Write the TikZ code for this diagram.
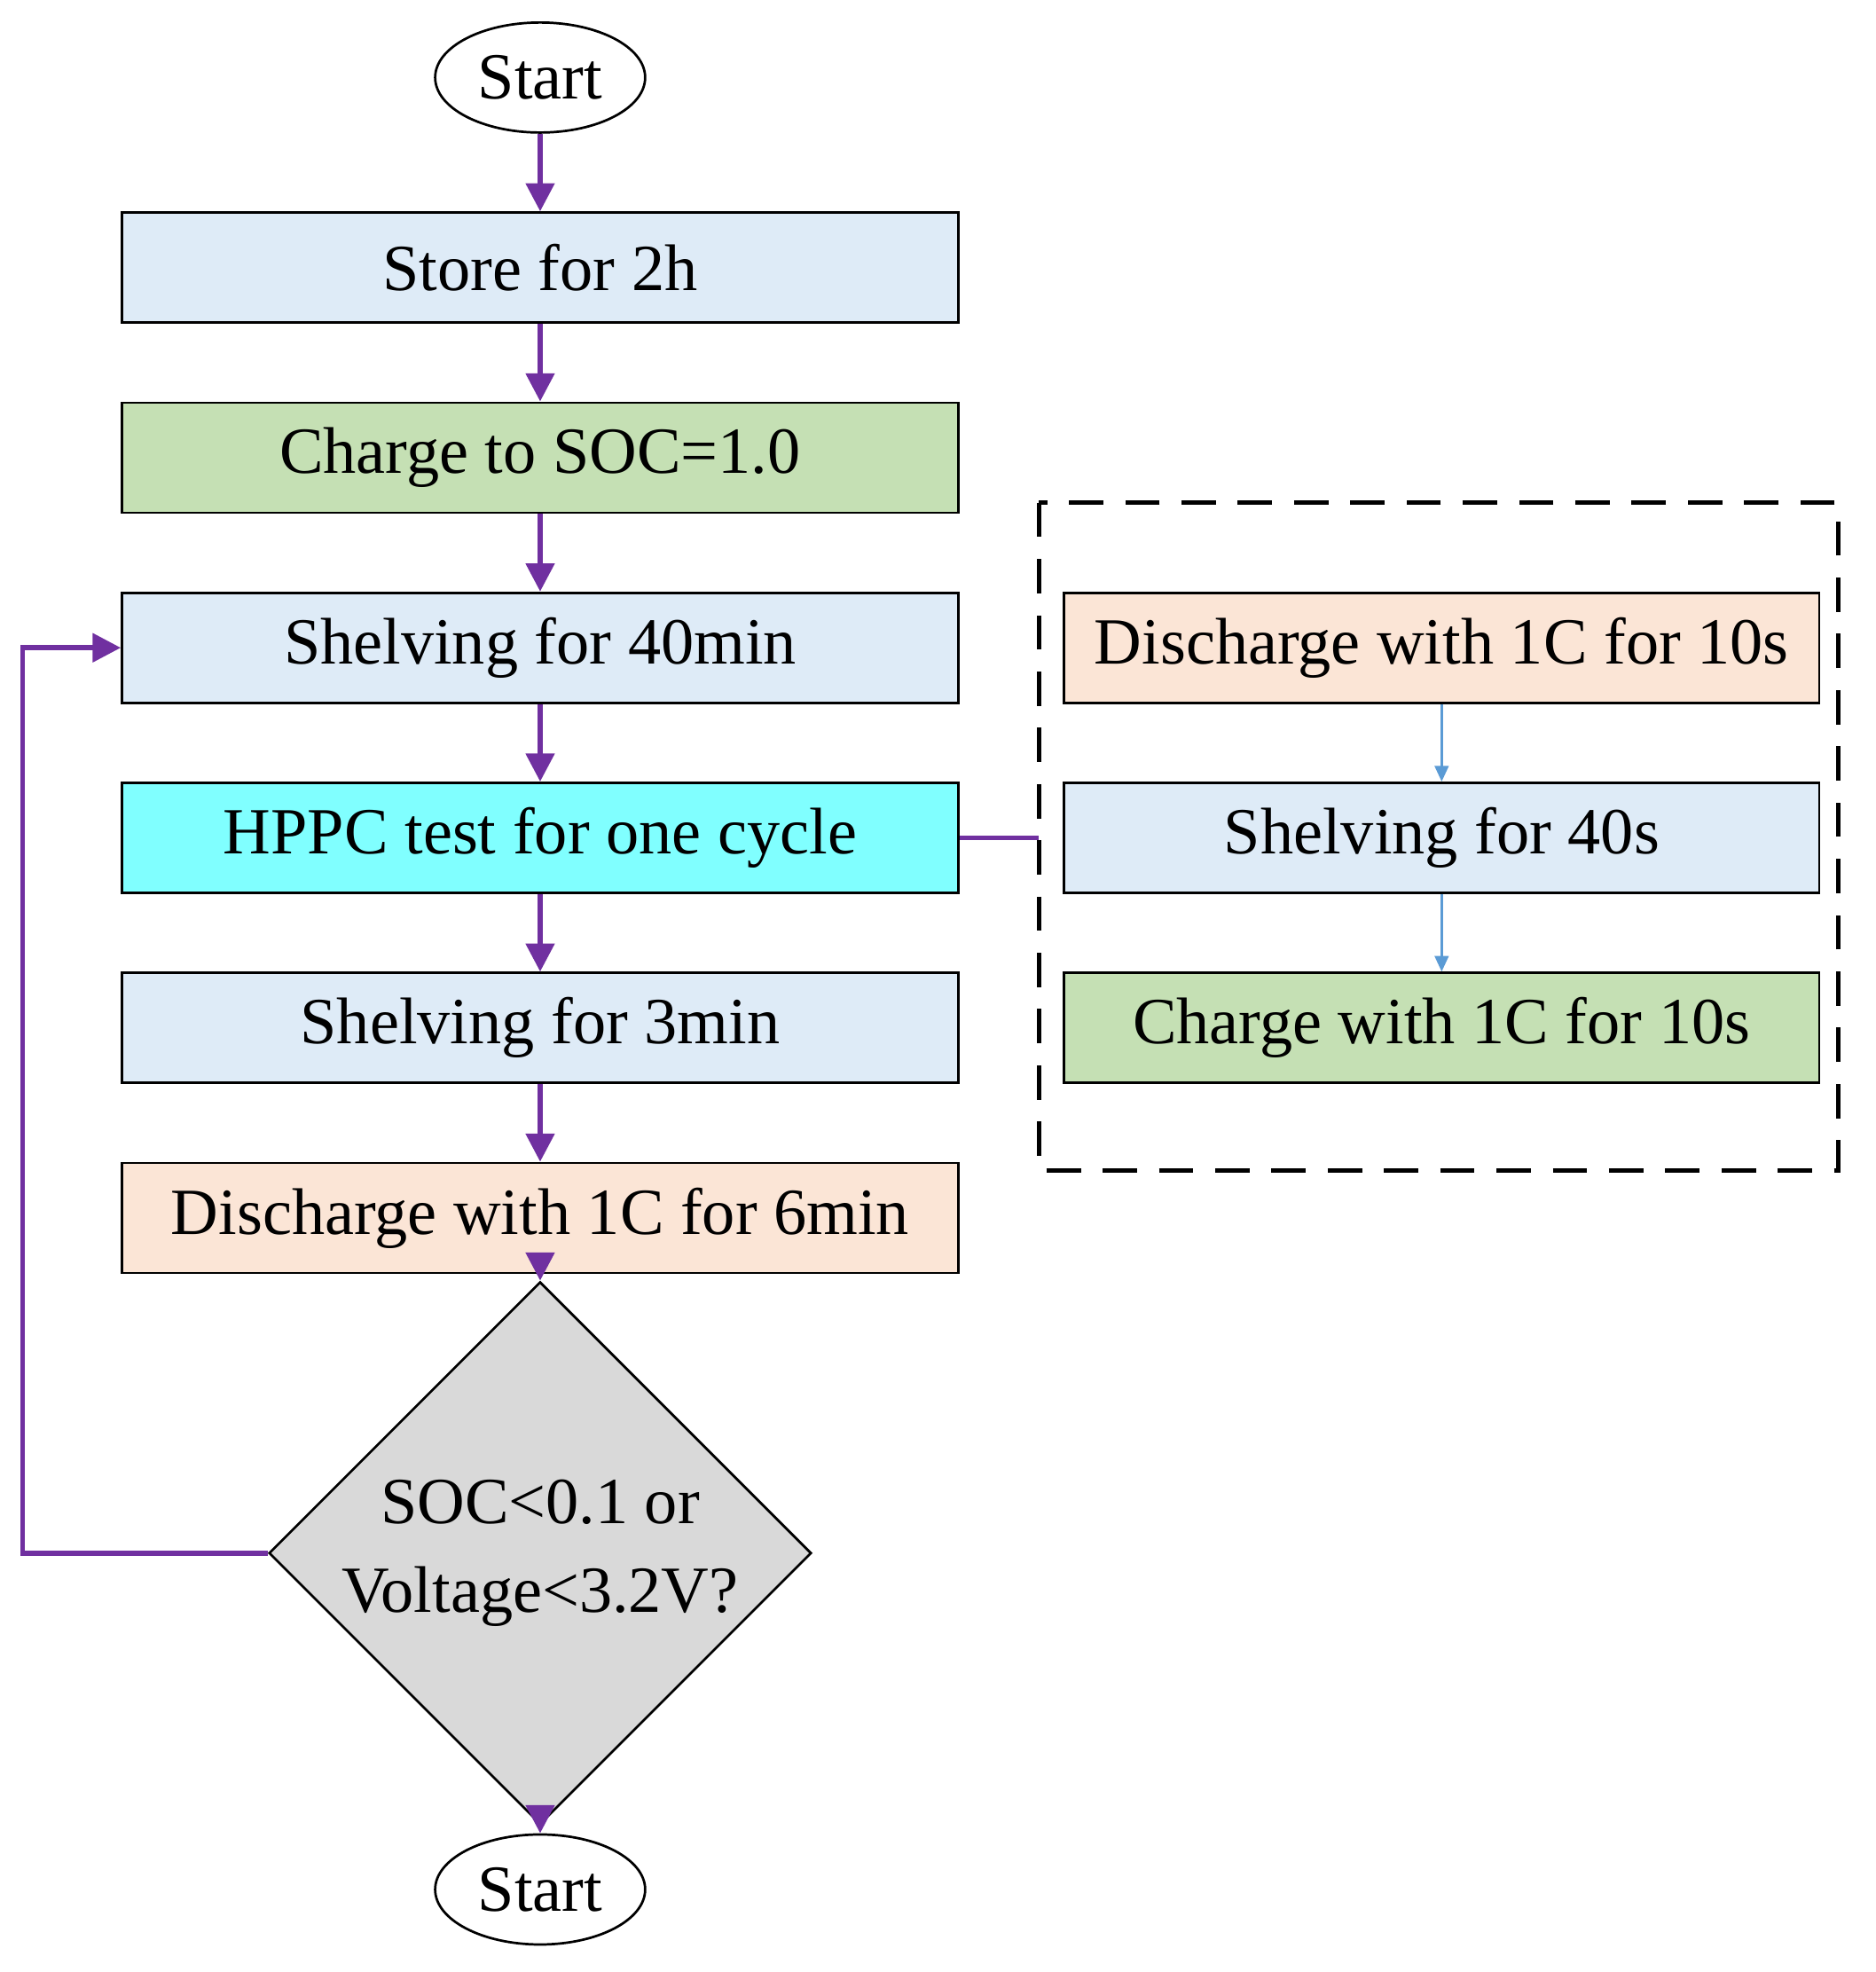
\documentclass[tikz,border=0pt]{standalone}
\usepackage{fontspec}
\setmainfont{Liberation Serif}
\usetikzlibrary{shapes.geometric,arrows.meta}
\definecolor{lb}{HTML}{DEEBF7}
\definecolor{gr}{HTML}{C5E0B4}
\definecolor{cy}{HTML}{80FFFF}
\definecolor{pe}{HTML}{FBE5D6}
\definecolor{gy}{HTML}{D9D9D9}
\definecolor{pu}{HTML}{7030A0}
\definecolor{bl}{HTML}{5B9BD5}
\begin{document}
\begin{tikzpicture}[x=0.02cm,y=-0.02cm,
 box/.style={draw,line width=1.1pt,minimum width=13.38cm,minimum height=1.76cm,inner sep=0pt,font=\fontsize{30}{36}\selectfont},
 rbox/.style={box,minimum width=12.08cm},
 term/.style={draw,line width=1.1pt,ellipse,minimum width=3.36cm,minimum height=1.76cm,inner sep=0pt,font=\fontsize{30}{36}\selectfont},
 arr/.style={draw=pu,line width=2.3pt,-{Triangle[length=0.45cm,width=0.45cm]}},
 barr/.style={draw=bl,line width=1.1pt,-{Triangle[length=0.25cm,width=0.22cm]}}]
\useasboundingbox (0,0) rectangle (1500,1577);
\node[term] (s) at (432,62) {Start};
\node[box,fill=lb] (b1) at (432,214) {Store for 2h};
\node[box,fill=gr] (b2) at (432,366) {Charge to SOC=1.0};
\node[box,fill=lb] (b3) at (432,518) {Shelving for 40min};
\node[box,fill=cy] (b4) at (432,670) {HPPC test for one cycle};
\node[box,fill=lb] (b5) at (432,822) {Shelving for 3min};
\node[box,fill=pe] (b6) at (432,974) {Discharge with 1C for 6min};
\node[draw,line width=1.1pt,diamond,fill=gy,minimum width=8.6cm,minimum height=6.4cm,inner sep=0pt,align=center,font=\fontsize{30}{40}\selectfont] (d) at (432,1242) {SOC<0.1 or\\Voltage<3.2V?};
\node[term] (e) at (432,1511) {Start};
\node[rbox,fill=pe] (r1) at (1153,518) {Discharge with 1C for 10s};
\node[rbox,fill=lb] (r2) at (1153,670) {Shelving for 40s};
\node[rbox,fill=gr] (r3) at (1153,822) {Charge with 1C for 10s};
\draw[line width=2pt,dash pattern=on 0.55cm off 0.35cm] (831,402) rectangle (1470,936);
\coordinate (dl) at (831,670);
\coordinate (c1) at (18,1242);
\coordinate (c2) at (18,518);
\draw[arr] (s) -- (b1);
\draw[arr] (b1) -- (b2);
\draw[arr] (b2) -- (b3);
\draw[arr] (b3) -- (b4);
\draw[arr] (b4) -- (b5);
\draw[arr] (b5) -- (b6);
\draw[arr] (b6) -- (d.north);
\draw[arr] (d.south) -- (e);
\draw[arr] (d.west) -- (c1) -- (c2) -- (b3.west);
\draw[draw=pu,line width=2.3pt] (b4.east) -- (dl);
\draw[barr] (r1) -- (r2);
\draw[barr] (r2) -- (r3);
\end{tikzpicture}
\end{document}
